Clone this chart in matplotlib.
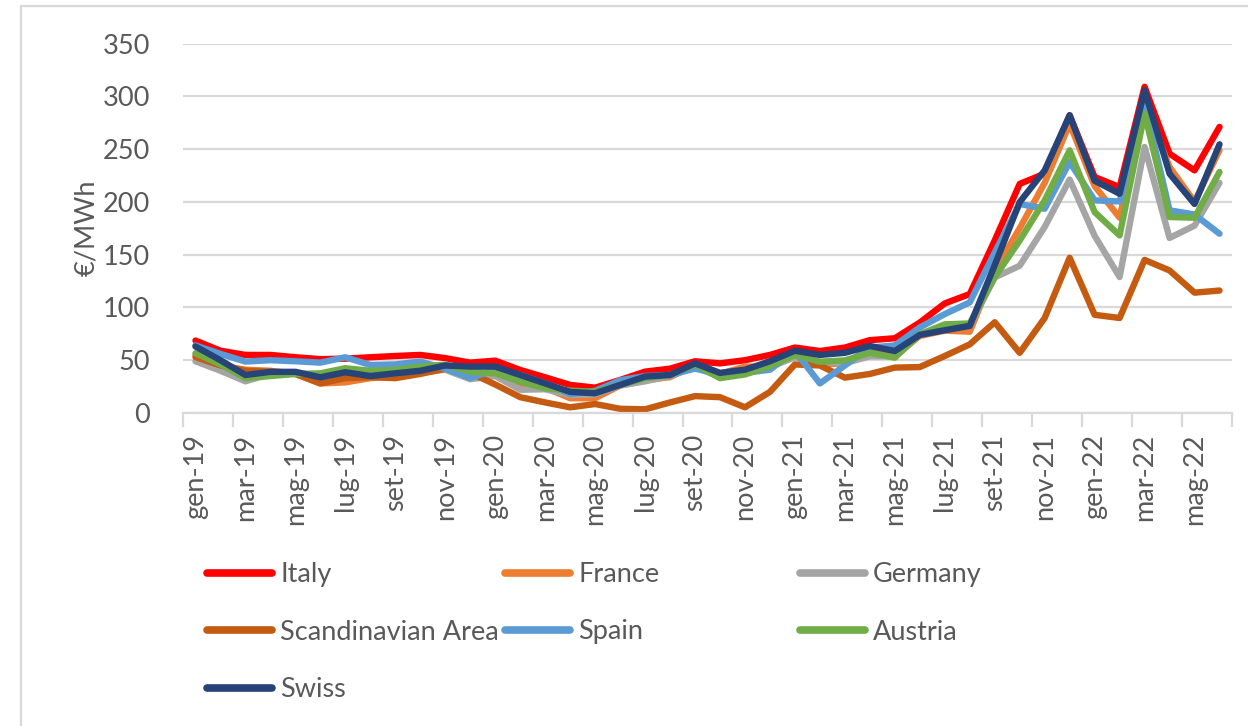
#Prezzi elettricità mensili per area (€/MWh), gen-19 -> giu-22

import numpy as np
import matplotlib
matplotlib.use('Agg')
import matplotlib.pyplot as plt
from matplotlib.lines import Line2D

plt.rcParams['font.family'] = ['Lato', 'DejaVu Sans']

#etichette mesi
mesi = ['gen', 'feb', 'mar', 'apr', 'mag', 'giu', 'lug', 'ago', 'set', 'ott', 'nov', 'dic']
anni = ['19', '20', '21', '22']
n_mesi = 42  #da gen-19 a giu-22

#valori
italy = [68.6, 59, 55, 55, 52.8, 51, 51.5, 52.8, 54, 55, 52, 47.7, 49.6, 40.8, 33.8, 26.6, 24, 31.3, 39.2, 42,
         49, 47, 50, 55, 62, 58.7, 62, 69, 70.8, 85.7, 103.8, 112.7, 163.5, 217, 226.7, 282, 223.5, 214, 309, 245.6,
         229.8, 271]
france = [55, 45, 41, 40, 37, 28, 29, 33, 35, 38, 42, 38, 37, 27, 24, 14, 14, 26, 31, 34,
          45, 37, 44, 44, 58, 46, 47, 61, 54, 73, 78, 77, 135, 175, 218, 274, 215, 185, 293, 233,
          200, 249]
germany = [49, 40, 30, 37, 37, 30, 39, 36, 35, 38, 41, 32, 35, 22, 22.5, 17, 17.6, 26, 30, 35,
           43.7, 34, 39, 43.5, 52.8, 48, 47.2, 53.7, 53.6, 74, 81.5, 82.7, 128.4, 139.5, 176.2, 221.1, 167.9, 128.8, 252, 165.8,
           177.5, 218]
scandinavia = [53, 45, 40, 39, 37, 28, 33, 34, 33, 37, 42, 38, 27, 15, 10, 5.4, 8.5, 4, 3.5, 10,
               16, 15, 5.4, 20, 46, 45, 33.5, 37, 43, 43.5, 54, 65, 86, 57, 90, 147, 93, 90, 145, 135,
               114, 116]
spain = [64, 56, 48.7, 50, 49, 47.7, 52.8, 45.5, 46, 48.7, 42, 33, 41, 36, 28, 18, 21, 31, 35, 36,
         42, 36.6, 38, 41, 58.7, 28, 45, 62, 64, 81, 93.7, 104.8, 152, 198, 193.5, 237.7, 201.4, 200.4, 293, 192,
         188, 169.8]
austria = [56.6, 46, 33, 35, 37, 37.6, 42.4, 40, 40.8, 44, 45.8, 39, 37.6, 29.7, 23.4, 21.2, 20, 26.6, 33, 36,
           46, 33, 36.5, 44.4, 55, 48.6, 49.8, 57, 52.4, 74.6, 84, 84.8, 128.7, 163.4, 201.4, 248.8, 190.3, 168.2, 283.6, 185.6,
           185, 228.3]
swiss = [63, 50, 36, 39, 39, 33.8, 38.6, 35, 37.6, 40, 45, 44, 44, 36, 28, 20, 18.7, 26.6, 34.5, 36,
         47, 38, 41, 49, 59, 55, 57, 63.5, 58.7, 74, 78.4, 82.5, 140, 199.8, 229.8, 282, 220, 207.7, 305.7, 226.7,
         198, 254.5]

nomi = ['Italy', 'France', 'Germany', 'Scandinavian Area', 'Spain', 'Austria', 'Swiss']
serie = [italy, france, germany, scandinavia, spain, austria, swiss]
colori = ['#FF0000', '#ED7D31', '#A5A5A5', '#C55A11', '#5B9BD5', '#70AD47', '#264478']

etichette = [m + '-' + a for a in anni for m in mesi][:n_mesi]
x = np.arange(n_mesi)
fs = 19.5  #dimensione testo

fig = plt.figure(figsize=(12.48, 7.26), dpi=100)
ax = fig.add_axes([183/1248, 1 - 413/726, (1232 - 183)/1248, (413 - 43.5)/726])

for val, nome, col in zip(serie, nomi, colori):
    ax.plot(x, val, color=col, lw=4.6, label=nome, solid_joinstyle='round', solid_capstyle='round')

# assi
ax.set_xlim(-0.5, n_mesi - 0.5)
ax.set_ylim(0, 350)
ax.set_yticks(np.arange(0, 351, 50))
ax.grid(axis='y', color='#D9D9D9', lw=1.6)
ax.set_axisbelow(True)
for s in ['top', 'right', 'left']:
    ax.spines[s].set_visible(False)
ax.spines['bottom'].set_color('#D9D9D9')
ax.spines['bottom'].set_linewidth(1.6)

ax.set_xticks(x[::2])
ax.set_xticklabels(etichette[::2], rotation=90, fontsize=fs, color='#595959')
ax.set_xticks(np.arange(-0.5, n_mesi, 2), minor=True)
ax.tick_params(axis='x', which='major', length=0, pad=15)
ax.tick_params(axis='x', which='minor', length=10, width=1.6, color='#D9D9D9')
ax.tick_params(axis='y', length=0, pad=24, labelsize=fs, labelcolor='#595959')
ax.set_ylabel('€/MWh', fontsize=fs, color='#595959', labelpad=2)

# legenda su 3 colonne separate (come in Excel)
colonne = [[0, 3, 6], [1, 4], [2, 5]]
sinistra = [207, 505, 800]
for k, idx in enumerate(colonne):
    maniglie = [Line2D([], [], color=colori[i], lw=5.5, solid_capstyle='round') for i in idx]
    leg = fig.legend(maniglie, [nomi[i] for i in idx], loc='upper left',
                     bbox_to_anchor=(sinistra[k]/1248, 1 - 562/726),
                     frameon=False, fontsize=fs, handlelength=2.4, handletextpad=0.3,
                     labelspacing=1.2, borderpad=0, borderaxespad=0, labelcolor='#595959')

# bordo area grafico
fig.add_artist(Line2D([21/1248, 21/1248], [0, 1 - 6/726], color='#D9D9D9', lw=1.6))
fig.add_artist(Line2D([21/1248, 1], [1 - 6/726, 1 - 6/726], color='#D9D9D9', lw=1.6))

fig.savefig('out.png', dpi=100)
